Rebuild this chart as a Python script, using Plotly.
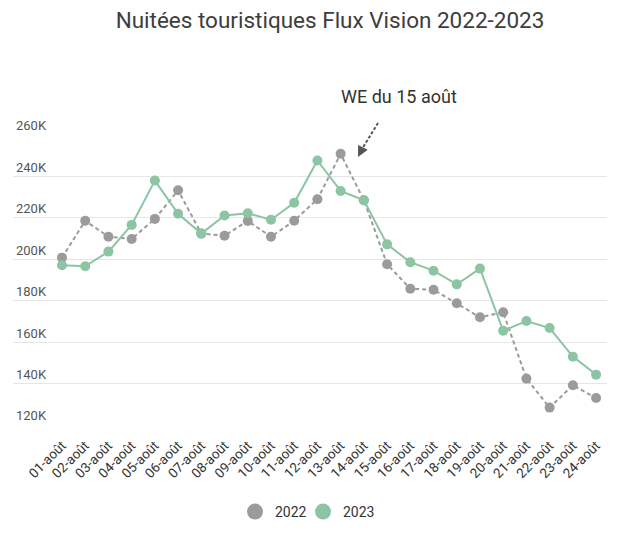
import plotly.graph_objects as go

days = ["01-août", "02-août", "03-août", "04-août", "05-août", "06-août", "07-août", "08-août",
        "09-août", "10-août", "11-août", "12-août", "13-août", "14-août", "15-août", "16-août",
        "17-août", "18-août", "19-août", "20-août", "21-août", "22-août", "23-août", "24-août"]

# values in thousands of nights
nuitees_2022 = [200.8, 218.6, 210.9, 209.8, 219.5, 233.3, 212.4, 211.4, 218.5, 210.9, 218.6, 229.0,
                250.9, 228.5, 197.6, 185.8, 185.3, 178.8, 172.0, 174.4, 142.4, 128.4, 139.2, 133.0]
nuitees_2023 = [197.1, 196.6, 203.7, 216.6, 238.0, 222.0, 212.4, 221.1, 222.2, 219.1, 227.3, 247.7,
                233.0, 228.5, 207.2, 198.6, 194.5, 187.9, 195.5, 165.5, 170.2, 166.8, 153.0, 144.3]

GRAY = "#9b9b9b"
GREEN = "#8cc4a4"
FONT = "Roboto, sans-serif"
W, H = 624, 541

x_idx = list(range(len(days)))

fig = go.Figure()
fig.add_trace(go.Scatter(
    x=x_idx, y=nuitees_2022, mode="lines+markers", name="2022", showlegend=False,
    line=dict(color=GRAY, width=2, dash="4px,3px"),
    marker=dict(color=GRAY, size=10)))
fig.add_trace(go.Scatter(
    x=x_idx, y=nuitees_2023, mode="lines+markers", name="2023", showlegend=False,
    line=dict(color=GREEN, width=2),
    marker=dict(color=GREEN, size=10)))
# legend-only entries (big circles)
fig.add_trace(go.Scatter(x=[None], y=[None], mode="markers", name="2022", legend="legend",
                         marker=dict(color=GRAY, size=16)))
fig.add_trace(go.Scatter(x=[None], y=[None], mode="markers", name="2023", legend="legend2",
                         marker=dict(color=GREEN, size=16)))

# dashed arrow shaft (paper coords, outside the plot clip)
fig.add_shape(type="line", xref="paper", yref="paper", x0=0.6145, y0=1.0414, x1=0.5865, y1=0.948,
              line=dict(color="#555555", width=2, dash="3px,2px"))
# arrow head
fig.add_annotation(x=12.75, y=249.4, xref="x", yref="y", text="", showarrow=True,
                   ax=4, ay=-8, arrowhead=2, arrowsize=1.2, arrowwidth=1.8, arrowcolor="#555555")
fig.add_annotation(x=(399 - 13) / 594, y=(425 - 97) / 290, xref="paper", yref="paper",
                   text="WE du 15 août", showarrow=False,
                   font=dict(family=FONT, size=18, color="#333333"), xanchor="center", yanchor="middle")

legend_common = dict(orientation="h", xanchor="left", xref="container", yanchor="middle",
                     yref="container", y=1 - 504 / H, itemwidth=30, bgcolor="rgba(0,0,0,0)",
                     font=dict(family=FONT, size=14, color="#333333"))

fig.update_layout(
    width=W, height=H,
    margin=dict(l=5, r=25, t=127, b=124),
    paper_bgcolor="white", plot_bgcolor="white",
    font=dict(family=FONT, color="#333333"),
    title=dict(text="Nuitées touristiques Flux Vision 2022-2023", x=322 / W, xanchor="center",
               y=1 - 12 / H, yanchor="middle", yref="container",
               font=dict(family=FONT, size=22.5, color="#3d3d3d")),
    legend=dict(x=227 / W, **legend_common),
    legend2=dict(x=295 / W, **legend_common),
    xaxis=dict(range=[-2.11, 23.47], tickmode="array", tickvals=x_idx, ticktext=days,
               tickangle=-45, tickfont=dict(family=FONT, size=13.5, color="#333333"),
               ticklabelstandoff=9,
               showgrid=False, zeroline=False, showline=False, ticks="", automargin=False),
    yaxis=dict(range=[120, 260], dtick=20, ticksuffix="K",
               ticklabelposition="inside top", ticklabeloverflow="allow",
               tickfont=dict(family=FONT, size=13, color="#555555"),
               gridcolor="#e6e6e6", gridwidth=1, zeroline=False, showline=False, automargin=False),
)

fig.write_html("out.html")
